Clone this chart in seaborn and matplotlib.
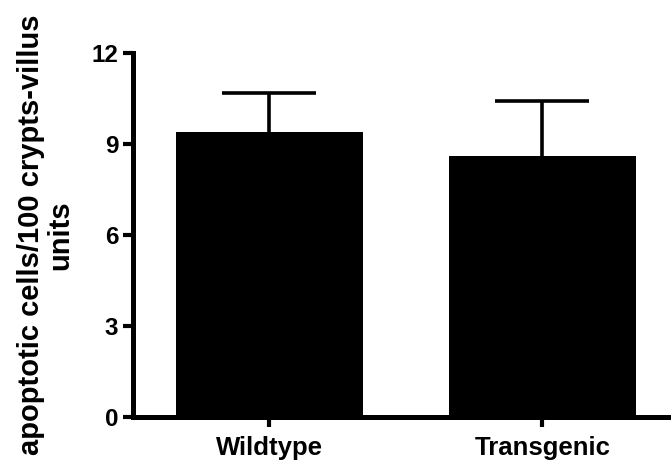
import matplotlib
matplotlib.use("Agg")
import matplotlib.pyplot as plt
import seaborn as sns
import pandas as pd

# values
groups = ["Wildtype", "Transgenic"]
means = [9.39, 8.60]
sem_upper = [1.28, 1.82]
yticks = [0, 3, 6, 9, 12]
ylabel = "apoptotic cells/100 crypts-villus\nunits"

sns.set_style("ticks")
plt.rcParams['font.family'] = ['Liberation Sans', 'DejaVu Sans']
plt.rcParams['font.weight'] = 'bold'
plt.rcParams['text.color'] = 'black'
plt.rcParams['axes.labelcolor'] = 'black'
plt.rcParams['xtick.color'] = 'black'
plt.rcParams['ytick.color'] = 'black'
plt.rcParams['axes.edgecolor'] = 'black'

df = pd.DataFrame({"group": groups, "value": means})

fig = plt.figure(figsize=(6.71, 4.70), dpi=100)
ax = fig.add_axes([0.198, 0.1128, 0.8137, 0.7745])

sns.barplot(data=df, x="group", y="value", color="black", width=0.685,
            saturation=1, errorbar=None, ax=ax)
for p in ax.patches:
    p.set_edgecolor("none")

# upper-only error bars (hide the lower cap)
eb = ax.errorbar(range(len(groups)), means, yerr=[[0] * len(groups), sem_upper],
                 fmt="none", ecolor="black", elinewidth=2.6, capsize=34, capthick=2.6, zorder=3)
eb[1][0].set_visible(False)

ax.set_xlim(-0.5, 1.5)
ax.set_ylim(0, 12)
ax.set_yticks(yticks)
ax.set_xlabel("")
ax.set_ylabel(ylabel, fontsize=21, fontweight='bold', labelpad=12, linespacing=1.1)

sns.despine(ax=ax)
for side in ["left", "bottom"]:
    ax.spines[side].set_linewidth(3.6)
ax.tick_params(axis="both", direction="out", length=7.5, width=3.0)
ax.tick_params(axis="y", pad=3, labelsize=17.5)
ax.tick_params(axis="x", pad=6, labelsize=18.5)
for lab in ax.get_xticklabels() + ax.get_yticklabels():
    lab.set_fontweight('bold')

plt.savefig("out.png", dpi=100)
plt.close()
